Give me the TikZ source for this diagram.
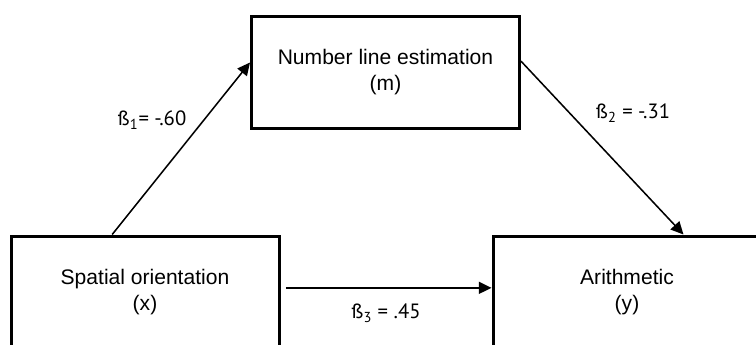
\documentclass[tikz,border=0pt]{standalone}
\usepackage{fontspec}
\setmainfont{Liberation Sans}
\newfontfamily\coeffont{PT Sans}
\usetikzlibrary{arrows.meta}

\tikzset{
  varbox/.style={draw, line width=2.25pt, minimum width=201pt,
    minimum height=84pt, inner sep=0pt, align=center,
    font=\fontsize{15.8pt}{19.5pt}\selectfont},
  effect/.style={-{Triangle[length=9.5pt,width=9pt]}, line width=1.15pt},
  coef/.style={font=\coeffont\fontsize{15.5pt}{18pt}\selectfont}
}

\begin{document}
\begin{tikzpicture}[x=0.75pt, y=-0.75pt]
  \useasboundingbox (0,0) rectangle (756,344);
  \clip (0,0) rectangle (756,344);

  % the three variables
  \node[varbox] (nl) at (385.5,72) {Number line estimation\\(m)};
  \node[varbox] (sp) at (145,292) {Spatial orientation\\(x)};
  \node[varbox] (ar) at (627,292) {Arithmetic\\(y)};

  % paths a, b and c'
  \draw[effect]
    ([xshift=77pt]sp.north west) -- ([yshift=-36pt]nl.north west)
  ;
  \draw[effect]
    ([yshift=-35pt]nl.north east) -- ([xshift=144pt]ar.north west)
  ;
  \draw[effect]
    ([xshift=4pt, yshift=-40pt]sp.north east) -- ([yshift=-40pt]ar.north west)
  ;

  \node[coef] (b1) at (152,120) {ß\textsubscript{1}= -.60};
  \node[coef] (b2) at (633,113) {ß\textsubscript{2} = -.31};
  \node[coef] (b3) at (386,313) {ß\textsubscript{3} = .45};
\end{tikzpicture}
\end{document}
